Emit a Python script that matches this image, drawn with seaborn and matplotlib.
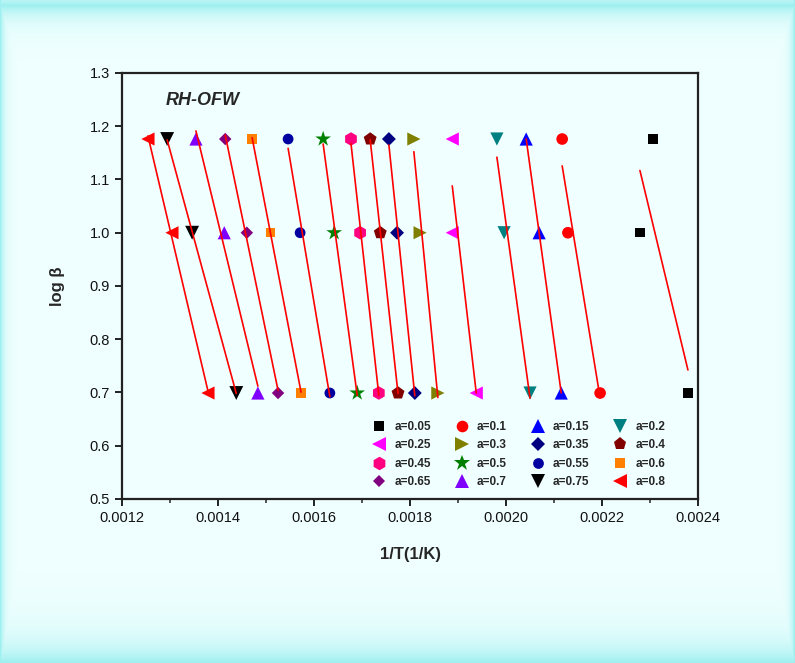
import numpy as np
import pandas as pd
import matplotlib.pyplot as plt
import seaborn as sns
from matplotlib.ticker import MultipleLocator, FormatStrFormatter

# =============================================
# data
# =============================================
labels = ['a=0.05', 'a=0.1', 'a=0.15', 'a=0.2', 'a=0.25', 'a=0.3', 'a=0.35', 'a=0.4',
          'a=0.45', 'a=0.5', 'a=0.55', 'a=0.6', 'a=0.65', 'a=0.7', 'a=0.75', 'a=0.8']
log_beta = [1.176, 1.0, 0.699]
x_beta15 = [0.002306, 0.002117, 0.002042, 0.001981, 0.001888, 0.001808, 0.001756, 0.001717,
            0.001677, 0.001619, 0.001546, 0.001471, 0.001415, 0.001354, 0.001294, 0.001254]
x_beta10 = [0.002279, 0.002129, 0.002069, 0.001996, 0.001888, 0.001821, 0.001773, 0.001738,
            0.001696, 0.001642, 0.001571, 0.001510, 0.001460, 0.001413, 0.001346, 0.001304]
x_beta5 = [0.002379, 0.002196, 0.002115, 0.002050, 0.001938, 0.001858, 0.001810, 0.001775,
           0.001735, 0.001690, 0.001633, 0.001573, 0.001525, 0.001483, 0.001438, 0.001379]

colors = ['black', 'red', 'blue', '#008080', '#ff00ff', '#808000', '#000080', '#800000',
          '#ff0080', '#008000', '#0000a0', '#ff8000', '#800080', '#8000ff', 'black', 'red']
shapes = ['s', 'o', '^', 'v', '<', '>', 'D', 'p', 'h', '*', 'o', 's', 'D', '^', 'v', '<']
msizes = [45, 70, 90, 90, 90, 90, 50, 95, 95, 140, 60, 45, 40, 90, 100, 90]

df = pd.DataFrame({'a': labels, 'b15': x_beta15, 'b10': x_beta10, 'b5': x_beta5})
df = pd.melt(df, id_vars=['a'], value_vars=['b15', 'b10', 'b5'],
             var_name='beta', value_name='invT')
df['log_beta'] = df.beta.map({'b15': log_beta[0], 'b10': log_beta[1], 'b5': log_beta[2]})

# =============================================
# plotting
# =============================================
sns.set_theme(style='ticks')
plt.rcParams['font.family'] = ['Liberation Sans', 'DejaVu Sans']

bg = '#f0ffff'
fig = plt.figure(figsize=(7.95, 6.63), dpi=100, facecolor=bg)

# soft cyan frame round the page
H, W = 663, 795
yy, xx = np.mgrid[0:H, 0:W]
w = np.maximum.reduce([np.exp(-np.abs(yy - 5) / 12.0), np.exp(-(H - 1 - yy) / 20.0),
                       np.exp(-xx / 4.0), np.exp(-(W - 1 - xx) / 4.0)])
azure = np.array([0.941, 1.0, 1.0])
cyan = np.array([0.62, 0.94, 0.94])
img = azure * (1 - w[..., None]) + cyan * w[..., None]
bgax = fig.add_axes([0, 0, 1, 1], zorder=-1)
bgax.imshow(img, aspect='auto')
bgax.axis('off')

ax = fig.add_axes([0.1535, 0.2474, 0.7245, 0.6425])
ax.set_facecolor(bg)

sns.scatterplot(data=df, x='invT', y='log_beta', hue='a', style='a', size='a',
                palette=dict(zip(labels, colors)), markers=dict(zip(labels, shapes)),
                sizes=dict(zip(labels, msizes)),
                hue_order=labels, style_order=labels, size_order=labels,
                edgecolor='none', linewidth=0, ax=ax, zorder=3)

for lab in labels:
    sns.regplot(data=df[df.a == lab], x='invT', y='log_beta', scatter=False, ci=None,
                truncate=True, color='red', line_kws=dict(lw=1.2, zorder=4), ax=ax)

ax.set_xlim(0.0012, 0.0024)
ax.set_ylim(0.5, 1.3)
ax.xaxis.set_major_locator(MultipleLocator(0.0002))
ax.xaxis.set_minor_locator(MultipleLocator(0.0001))
ax.xaxis.set_major_formatter(FormatStrFormatter('%.4f'))
ax.yaxis.set_major_locator(MultipleLocator(0.1))
ax.yaxis.set_major_formatter(FormatStrFormatter('%.1f'))
ax.tick_params(axis='both', which='major', direction='out', length=5, width=1.3,
               labelsize=10.5, colors='#111111', top=False, right=False)
ax.tick_params(axis='x', which='minor', direction='out', length=3, width=1.1)
for sp in ax.spines.values():
    sp.set_linewidth(1.6)
    sp.set_color('#222222')

ax.set_xlabel('1/T(1/K)', fontsize=12, fontweight='bold', labelpad=16)
ax.set_ylabel('log β', fontsize=12, fontweight='bold', labelpad=18)
ax.text(0.075, 0.935, 'RH-OFW', transform=ax.transAxes, fontsize=13,
        fontweight='bold', style='italic', va='center')

# legend filled row by row, 4 per row
h, l = ax.get_legend_handles_labels()
order = [i + 4 * r for i in range(4) for r in range(4)]
leg = ax.legend([h[k] for k in order], [l[k] for k in order], ncol=4, loc='lower right',
                bbox_to_anchor=(0.962, 0.0), frameon=False, fontsize=8.5,
                handletextpad=0.3, columnspacing=1.6, labelspacing=0.55)
for t in leg.get_texts():
    t.set_fontweight('bold')

fig.savefig('out.png', dpi=100, facecolor=fig.get_facecolor())
